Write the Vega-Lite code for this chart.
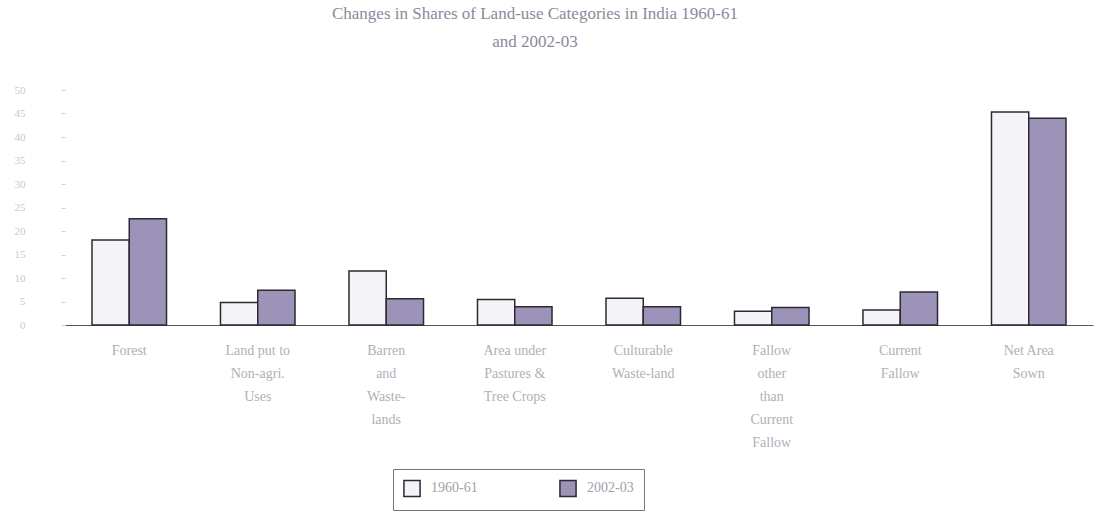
{
  "$schema": "https://vega.github.io/schema/vega-lite/v6.json",
  "autosize": {"type": "none"},
  "padding": {"left": 65, "top": 90, "right": 3, "bottom": 190},
  "width": 1028,
  "height": 235,
  "background": "white",
  "title": {
    "text": ["Changes in Shares of Land-use Categories in India 1960-61", "and 2002-03"],
    "font": "Liberation Serif",
    "fontSize": 17,
    "fontWeight": "normal",
    "color": "#8a8a9a",
    "lineHeight": 28,
    "anchor": "middle",
    "dx": -44,
    "offset": 33
  },
  "data": {
    "values": [
      {"category": "Forest", "year": "1960-61", "share": 18.1},
      {"category": "Forest", "year": "2002-03", "share": 22.6},
      {"category": "Land put to Non-agri. Uses", "year": "1960-61", "share": 4.8},
      {"category": "Land put to Non-agri. Uses", "year": "2002-03", "share": 7.4},
      {"category": "Barren and Wastelands", "year": "1960-61", "share": 11.5},
      {"category": "Barren and Wastelands", "year": "2002-03", "share": 5.6},
      {"category": "Area under Pastures & Tree Crops", "year": "1960-61", "share": 5.4},
      {"category": "Area under Pastures & Tree Crops", "year": "2002-03", "share": 3.9},
      {"category": "Culturable Waste-land", "year": "1960-61", "share": 5.7},
      {"category": "Culturable Waste-land", "year": "2002-03", "share": 3.9},
      {"category": "Fallow other than Current Fallow", "year": "1960-61", "share": 2.9},
      {"category": "Fallow other than Current Fallow", "year": "2002-03", "share": 3.7},
      {"category": "Current Fallow", "year": "1960-61", "share": 3.2},
      {"category": "Current Fallow", "year": "2002-03", "share": 7.0},
      {"category": "Net Area Sown", "year": "1960-61", "share": 45.3},
      {"category": "Net Area Sown", "year": "2002-03", "share": 44.0}
    ]
  },
  "mark": {"type": "bar", "stroke": "#2a2a35", "strokeWidth": 1.5},
  "encoding": {
    "x": {
      "field": "category",
      "type": "nominal",
      "sort": null,
      "scale": {"paddingInner": 0.42, "paddingOuter": 0.21},
      "axis": {
        "title": null,
        "labelAngle": 0,
        "labelFont": "Liberation Serif",
        "labelFontSize": 14,
        "labelColor": "#b0b0b8",
        "labelLineHeight": 23,
        "labelPadding": 18,
        "labelBaseline": "top",
        "ticks": false,
        "domainColor": "#555",
        "domainWidth": 1.2,
        "labelExpr": "datum.value == 'Forest' ? ['Forest'] : datum.value == 'Land put to Non-agri. Uses' ? ['Land put to', 'Non-agri.', 'Uses'] : datum.value == 'Barren and Wastelands' ? ['Barren', 'and', 'Waste-', 'lands'] : datum.value == 'Area under Pastures & Tree Crops' ? ['Area under', 'Pastures &', 'Tree Crops'] : datum.value == 'Culturable Waste-land' ? ['Culturable', 'Waste-land'] : datum.value == 'Fallow other than Current Fallow' ? ['Fallow', 'other', 'than', 'Current', 'Fallow'] : datum.value == 'Current Fallow' ? ['Current', 'Fallow'] : ['Net Area', 'Sown']"
      }
    },
    "xOffset": {"field": "year", "type": "nominal", "scale": {"paddingInner": 0, "paddingOuter": 0}},
    "y": {
      "field": "share",
      "type": "quantitative",
      "scale": {"domain": [0, 50]},
      "axis": {
        "title": null,
        "values": [0, 5, 10, 15, 20, 25, 30, 35, 40, 45, 50],
        "grid": false,
        "domain": false,
        "tickColor": "#d0d0d8",
        "tickSize": 4,
        "labelPadding": 36,
        "labelFont": "Liberation Serif",
        "labelFontSize": 11,
        "labelColor": "#c8c8d0"
      }
    },
    "fill": {
      "field": "year",
      "type": "nominal",
      "scale": {"domain": ["1960-61", "2002-03"], "range": ["#f4f3f7", "#9d93b8"]},
      "legend": {
        "title": null,
        "orient": "none",
        "legendX": 328,
        "legendY": 379,
        "direction": "horizontal",
        "columns": 2,
        "columnPadding": 78,
        "symbolType": "square",
        "symbolSize": 260,
        "symbolStrokeColor": "#2a2a35",
        "symbolStrokeWidth": 1.5,
        "labelFont": "Liberation Serif",
        "labelFontSize": 14,
        "labelColor": "#a0a0a8",
        "labelOffset": 10,
        "labelLimit": 200,
        "strokeColor": "#777",
        "padding": 10,
        "offset": 0
      }
    }
  },
  "config": {"view": {"stroke": null}}
}
